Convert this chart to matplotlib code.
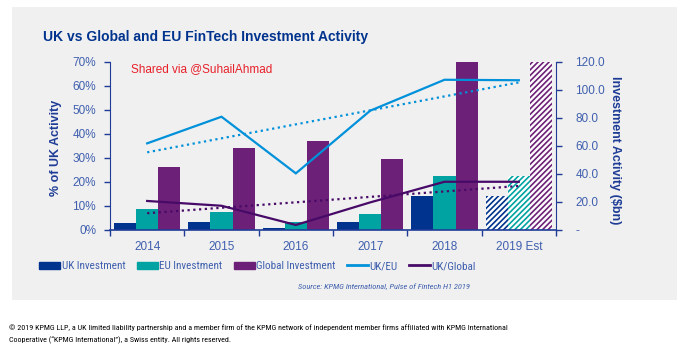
import numpy as np
import matplotlib
matplotlib.use("Agg")
import matplotlib.pyplot as plt
from matplotlib.patches import Rectangle, Patch
from matplotlib.lines import Line2D

# ---- data ----
years = ["2014", "2015", "2016", "2017", "2018", "2019 Est"]
uk_investment = [5.2, 5.7, 1.2, 5.7, 24.3, 24.5]       # $bn
eu_investment = [15.0, 12.6, 5.7, 11.6, 38.8, 38.8]     # $bn
global_investment = [45.2, 58.8, 63.6, 51.0, 120.0, 120.0]  # $bn
uk_eu_pct = [36.1, 47.2, 23.6, 49.7, 62.6, 62.4]        # %
uk_global_pct = [12.1, 10.1, 2.1, 11.5, 20.1, 20.1]     # %
estimated = [False, False, False, False, False, True]

left_ticks = [0, 10, 20, 30, 40, 50, 60, 70]
right_ticks = [0, 20, 40, 60, 80, 100, 120]
right_tick_labels = ["-", "20.0", "40.0", "60.0", "80.0", "100.0", "120.0"]

# ---- style ----
C_UK = "#00338D"
C_EU = "#00A3A1"
C_GL = "#6D2077"
C_UKEU = "#0091DA"
C_UKGL = "#470A68"
C_AX = "#1E3C96"
C_TXT = "#3F5FAE"
BG = "#F0F0F0"
plt.rcParams["font.family"] = ["Liberation Sans", "DejaVu Sans"]
plt.rcParams["hatch.linewidth"] = 1.2
NARROW = ["Roboto Condensed", "Liberation Sans", "DejaVu Sans"]

W, H = 687, 351
fig = plt.figure(figsize=(W / 100, H / 100), dpi=100)
fig.patch.set_facecolor("white")
fig.add_artist(Rectangle((12 / W, 1 - 300 / H), (677 - 12) / W, (300 - 7) / H,
                         transform=fig.transFigure, facecolor=BG, edgecolor="none", zorder=0))

ax2 = fig.add_axes([110 / W, 1 - 230 / H, 446 / W, 168 / H])
ax = ax2.twinx()
ax.yaxis.tick_left()
ax.yaxis.set_label_position("left")
ax2.yaxis.tick_right()
ax2.yaxis.set_label_position("right")
ax2.patch.set_visible(False)
ax.patch.set_visible(False)
ax.set_zorder(ax2.get_zorder() + 1)

x = np.arange(len(years))
bw = 0.297
for i in range(len(years)):
    for off, vals, col in [(-bw, uk_investment, C_UK), (0, eu_investment, C_EU), (bw, global_investment, C_GL)]:
        if estimated[i]:
            ax2.bar(x[i] + off, vals[i], bw, facecolor="white", edgecolor=col, hatch="//////", linewidth=0)
        else:
            ax2.bar(x[i] + off, vals[i], bw, color=col, linewidth=0)

ax.plot(x, uk_eu_pct, color=C_UKEU, lw=1.6, solid_joinstyle="miter")
ax.plot(x, uk_global_pct, color=C_UKGL, lw=1.6, solid_joinstyle="miter")
for vals, col in [(uk_eu_pct, C_UKEU), (uk_global_pct, C_UKGL)]:
    p = np.polyfit(x, vals, 1)
    ax.plot(x, np.polyval(p, x), color=col, lw=1.6, linestyle=(0, (1, 1.6)))

ax.set_xlim(-0.5, len(years) - 0.5)
ax.set_ylim(0, 70)
ax2.set_ylim(0, 120)
ax.set_yticks(left_ticks)
ax.set_yticklabels([f"{v}%" for v in left_ticks])
ax2.set_yticks(right_ticks)
ax2.set_yticklabels(right_tick_labels)

ax2.set_xticks(np.arange(len(years) + 1) - 0.5)
ax2.set_xticklabels([])
ax2.set_xticks(x, minor=True)
ax2.set_xticklabels(years, minor=True)
ax2.tick_params(axis="x", which="minor", length=0, pad=8, labelsize=8.5, labelcolor=C_TXT)
ax2.tick_params(axis="x", which="major", length=4, width=1, color=C_AX, direction="out")
ax.tick_params(axis="x", which="both", bottom=False, labelbottom=False)
ax.tick_params(axis="y", length=4, width=1, color=C_AX, labelsize=8.5, labelcolor=C_TXT, pad=6)
ax2.tick_params(axis="y", length=4, width=1, color=C_AX, labelsize=8.5, labelcolor=C_TXT, pad=10)

for a in (ax, ax2):
    for s in a.spines.values():
        s.set_visible(False)
ax.spines["left"].set_visible(True)
ax.spines["left"].set_color(C_AX)
ax2.spines["right"].set_visible(True)
ax2.spines["right"].set_color(C_AX)
ax2.spines["bottom"].set_visible(True)
ax2.spines["bottom"].set_color(C_AX)
ax2.spines["bottom"].set_linewidth(1.2)

fig.text(56 / W, 1 - 148 / H, "% of UK Activity", rotation=90, ha="center", va="center",
         fontsize=9, fontweight="bold", color=C_AX)
fig.text(615 / W, 1 - 150 / H, "Investment Activity ($bn)", rotation=-90, ha="center", va="center",
         fontsize=9, fontweight="bold", color=C_AX)

fig.text(43 / W, 1 - 37 / H, "UK vs Global and EU FinTech Investment Activity", ha="left", va="center",
         fontsize=10, fontweight="bold", color=C_UK)
fig.text(131 / W, 1 - 69 / H, "Shared via @SuhailAhmad", ha="left", va="center",
         fontsize=8.5, color="#E8202A")

handles = [Patch(color=C_UK), Patch(color=C_EU), Patch(color=C_GL),
           Line2D([], [], color=C_UKEU, lw=2), Line2D([], [], color=C_UKGL, lw=2)]
labels = ["UK Investment", "EU Investment", "Global Investment", "UK/EU", "UK/Global"]
leg = fig.legend(handles, labels, loc="center left", bbox_to_anchor=(29 / W, 1 - 266 / H),
                 ncol=5, frameon=False, handlelength=1.9, handleheight=0.6, handletextpad=0.15,
                 columnspacing=1.0, prop={"family": NARROW, "size": 8})
for t in leg.get_texts():
    t.set_color(C_TXT)

fig.text(470 / W, 1 - 287 / H, "Source: KPMG International, Pulse of Fintech H1 2019", ha="right",
         va="center", fontsize=6, style="italic", color=C_TXT, family=NARROW)

fig.text(9 / W, 1 - 328 / H,
         "\u00a9 2019 KPMG LLP, a UK limited liability partnership and a member firm of the KPMG network of "
         "independent member firms affiliated with KPMG International", ha="left", va="center",
         fontsize=5.8, color="black", family=NARROW)
fig.text(9 / W, 1 - 340 / H,
         "Cooperative (\u201cKPMG International\u201d), a Swiss entity. All rights reserved.",
         ha="left", va="center", fontsize=5.8, color="black", family=NARROW)

fig.savefig("out.png", dpi=100, facecolor="white")
